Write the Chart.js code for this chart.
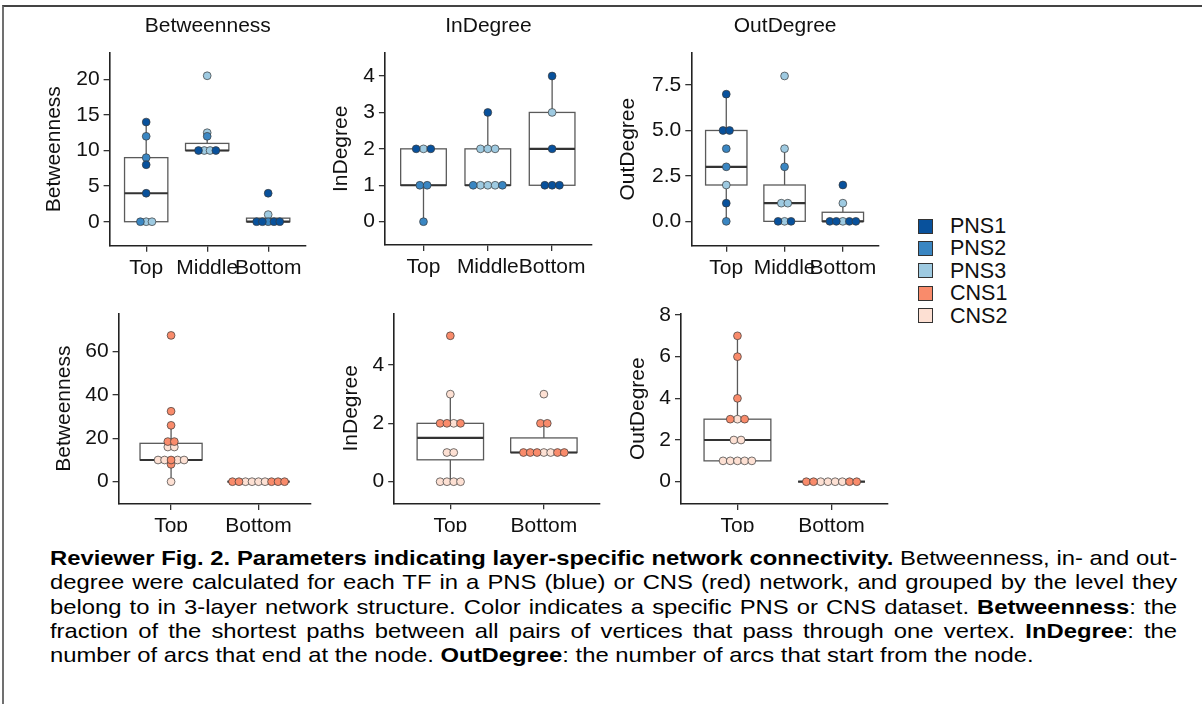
<!DOCTYPE html>
<html><head><meta charset="utf-8">
<script src="https://cdn.jsdelivr.net/npm/chart.js@4.4.1/dist/chart.umd.min.js"></script>
<style>
body{margin:0;width:1202px;height:704px;background:#fff;overflow:hidden;position:relative;font-family:"Liberation Sans",Arial,Helvetica,sans-serif;}
.frame{position:absolute;left:2px;top:5px;width:1200px;height:699px;border-top:2px solid #444;border-left:2px solid #707070;box-sizing:border-box;}
canvas.panel{position:absolute;}
.legend{position:absolute;left:918px;top:215px;font-size:21.5px;color:#111;}
.legend .row{height:22.4px;line-height:22.4px;position:relative;padding-left:32px;white-space:nowrap;}
.legend .sw{position:absolute;left:0;top:3.5px;width:15px;height:15px;border:1.4px solid #333;box-sizing:border-box;}
.caption{position:absolute;left:50px;top:546px;width:965px;font-size:20.4px;line-height:24.3px;color:#000;transform:scaleX(1.168);transform-origin:0 0;}
.caption div{white-space:nowrap;text-align:justify;text-align-last:justify;}
.caption div.last{text-align:left;text-align-last:left;}
</style></head>
<body>
<div class="frame"></div>
<canvas class="panel" id="p1"></canvas>
<canvas class="panel" id="p2"></canvas>
<canvas class="panel" id="p3"></canvas>
<canvas class="panel" id="p4"></canvas>
<canvas class="panel" id="p5"></canvas>
<canvas class="panel" id="p6"></canvas>
<div class="legend" id="legend"></div>
<div class="caption">
<div><b>Reviewer Fig. 2. Parameters indicating layer-specific network connectivity.</b> Betweenness, in- and out-</div>
<div>degree were calculated for each TF in a PNS (blue) or CNS (red) network, and grouped by the level they</div>
<div>belong to in 3-layer network structure. Color indicates a specific PNS or CNS dataset. <b>Betweenness</b>: the</div>
<div>fraction of the shortest paths between all pairs of vertices that pass through one vertex. <b>InDegree</b>: the</div>
<div class="last">number of arcs that end at the node. <b>OutDegree</b>: the number of arcs that start from the node.</div>
</div>
<script>
// ---------------- data ----------------
const levels3 = ['Top', 'Middle', 'Bottom'];
const levels2 = ['Top', 'Bottom'];
const seriesNames = ['PNS1', 'PNS2', 'PNS3', 'CNS1', 'CNS2'];

const pnsBetweennessTicks = [0, 5, 10, 15, 20];
const pnsInDegreeTicks = [0, 1, 2, 3, 4];
const pnsOutDegreeTicks = [0, 2.5, 5, 7.5];
const cnsBetweennessTicks = [0, 20, 40, 60];
const cnsInDegreeTicks = [0, 2, 4];
const cnsOutDegreeTicks = [0, 2, 4, 6, 8];

// box stats per level: [lower whisker, Q1, median, Q3, upper whisker]
const pnsBetweennessBoxes = [[0, 0, 4, 9, 14], [10, 10, 10, 11, 12.5], [0, 0, 0, 0.5, 1]];
const pnsBetweennessValues = [[14, 12, 9, 8, 4, 0, 0, 0], [20.5, 12.5, 12, 10, 10, 10, 10], [4, 1, 0, 0, 0, 0, 0]];
const pnsBetweennessSets = [
  ['PNS1', 'PNS2', 'PNS2', 'PNS1', 'PNS1', 'PNS2', 'PNS3', 'PNS3'],
  ['PNS3', 'PNS3', 'PNS2', 'PNS1', 'PNS3', 'PNS3', 'PNS1'],
  ['PNS1', 'PNS3', 'PNS1', 'PNS1', 'PNS2', 'PNS1', 'PNS1']];

const pnsInDegreeBoxes = [[0, 1, 1, 2, 2], [1, 1, 1, 2, 3], [1, 1, 2, 3, 4]];
const pnsInDegreeValues = [[2, 2, 2, 1, 1, 0], [3, 2, 2, 2, 1, 1, 1, 1, 1], [4, 3, 2, 1, 1, 1]];
const pnsInDegreeSets = [
  ['PNS1', 'PNS3', 'PNS1', 'PNS2', 'PNS2', 'PNS2'],
  ['PNS1', 'PNS3', 'PNS3', 'PNS3', 'PNS2', 'PNS3', 'PNS3', 'PNS3', 'PNS2'],
  ['PNS1', 'PNS3', 'PNS1', 'PNS1', 'PNS1', 'PNS1']];

const pnsOutDegreeBoxes = [[0, 2, 3, 5, 7], [0, 0, 1, 2, 4], [0, 0, 0, 0.5, 1]];
const pnsOutDegreeValues = [[7, 5, 5, 4, 3, 2, 1, 0], [8, 4, 3, 1, 1, 0, 0, 0], [2, 1, 0, 0, 0, 0, 0]];
const pnsOutDegreeSets = [
  ['PNS1', 'PNS1', 'PNS1', 'PNS2', 'PNS2', 'PNS3', 'PNS1', 'PNS2'],
  ['PNS3', 'PNS3', 'PNS2', 'PNS3', 'PNS3', 'PNS1', 'PNS3', 'PNS1'],
  ['PNS1', 'PNS3', 'PNS1', 'PNS1', 'PNS3', 'PNS1', 'PNS1']];

const cnsBetweennessBoxes = [[0, 10, 10, 17.7, 26], [0, 0, 0, 0, 0]];
const cnsBetweennessValues = [[67.5, 32.5, 26, 18.5, 18.5, 16, 16, 10, 10, 10, 10, 10, 8, 0], [0, 0, 0, 0, 0, 0, 0, 0, 0]];
const cnsBetweennessSets = [
  ['CNS1', 'CNS1', 'CNS1', 'CNS1', 'CNS1', 'CNS2', 'CNS2', 'CNS2', 'CNS2', 'CNS1', 'CNS2', 'CNS2', 'CNS1', 'CNS2'],
  ['CNS1', 'CNS1', 'CNS2', 'CNS2', 'CNS2', 'CNS2', 'CNS1', 'CNS1', 'CNS1']];

const cnsInDegreeBoxes = [[0, 0.75, 1.5, 2, 3], [1, 1, 1, 1.5, 2]];
const cnsInDegreeValues = [[5, 3, 2, 2, 2, 2, 1, 1, 0, 0, 0, 0], [3, 2, 2, 1, 1, 1, 1, 1, 1, 1]];
const cnsInDegreeSets = [
  ['CNS1', 'CNS2', 'CNS1', 'CNS1', 'CNS2', 'CNS1', 'CNS2', 'CNS2', 'CNS2', 'CNS2', 'CNS2', 'CNS2'],
  ['CNS2', 'CNS1', 'CNS1', 'CNS1', 'CNS1', 'CNS1', 'CNS2', 'CNS2', 'CNS1', 'CNS1']];

const cnsOutDegreeBoxes = [[1, 1, 2, 3, 7], [0, 0, 0, 0, 0]];
const cnsOutDegreeValues = [[7, 6, 4, 3, 3, 3, 2, 2, 1, 1, 1, 1, 1], [0, 0, 0, 0, 0, 0, 0, 0]];
const cnsOutDegreeSets = [
  ['CNS1', 'CNS1', 'CNS1', 'CNS1', 'CNS2', 'CNS1', 'CNS2', 'CNS2', 'CNS2', 'CNS2', 'CNS2', 'CNS2', 'CNS2'],
  ['CNS1', 'CNS1', 'CNS2', 'CNS2', 'CNS2', 'CNS2', 'CNS1', 'CNS1']];

// ---------------- style ----------------
const seriesColors = {PNS1: '#08519C', PNS2: '#3A86C2', PNS3: '#9ECAE1', CNS1: '#F98B6B', CNS2: '#FDE0D3'};
const FONT = '"Liberation Sans", Arial, Helvetica, sans-serif';
const INK = '#111';

// legend
const lg = document.getElementById('legend');
seriesNames.forEach(n => {
  const r = document.createElement('div'); r.className = 'row';
  const s = document.createElement('span'); s.className = 'sw'; s.style.background = seriesColors[n];
  r.appendChild(s); r.appendChild(document.createTextNode(n)); lg.appendChild(r);
});

function boxPlugin(boxes, halfW) {
  return {
    id: 'boxes',
    beforeDatasetsDraw(chart) {
      const {ctx, scales: {x, y}} = chart;
      ctx.save();
      boxes.forEach((b, i) => {
        const c = i + 1;
        const xl = x.getPixelForValue(c - halfW), xr = x.getPixelForValue(c + halfW), xc = x.getPixelForValue(c);
        const [lo, q1, med, q3, hi] = b.map(v => y.getPixelForValue(v));
        ctx.strokeStyle = '#5a5a5a'; ctx.lineWidth = 1.3;
        ctx.beginPath(); ctx.moveTo(xc, q3); ctx.lineTo(xc, hi); ctx.moveTo(xc, q1); ctx.lineTo(xc, lo); ctx.stroke();
        ctx.fillStyle = '#fff'; ctx.fillRect(xl, q3, xr - xl, q1 - q3);
        ctx.strokeRect(xl, q3, xr - xl, q1 - q3);
        ctx.strokeStyle = '#333'; ctx.lineWidth = 2.2;
        ctx.beginPath(); ctx.moveTo(xl, med); ctx.lineTo(xr, med); ctx.stroke();
      });
      ctx.restore();
    }
  };
}

function makePanel(id, d) {
  const rowTop = d.title ? 0 : 300;
  const rowH = d.title ? 290 : 232;
  const left = d.yTitleX - 12.6;
  const width = d.R + 5 - left;
  const cv = document.getElementById(id);
  cv.width = Math.round(width); cv.height = rowH;
  cv.style.left = left + 'px'; cv.style.top = rowTop + 'px';
  const pxPerX = (d.R - d.L) / (d.xMax - 0.4);
  const step = d.dotPx / pxPerX;
  const byName = {};
  d.values.forEach((vals, i) => {
    const groups = {};
    vals.forEach((v, k) => { (groups[v] = groups[v] || []).push(k); });
    Object.values(groups).forEach(idx => {
      idx.forEach((k, j) => {
        const nm = d.sets[i][k];
        (byName[nm] = byName[nm] || []).push({x: i + 1 + (j - (idx.length - 1) / 2) * step, y: vals[k]});
      });
    });
  });
  const datasets = seriesNames.filter(n => byName[n]).map(n => ({
    label: n, data: byName[n], backgroundColor: seriesColors[n], borderColor: '#3a3a3a',
    borderWidth: 0.7, pointRadius: 3.9, pointHoverRadius: 3.9
  }));
  const tickFont = {family: FONT, size: 21};
  const gridOpt = {display: true, drawOnChartArea: false, drawTicks: true, tickLength: 6, color: '#333', lineWidth: 1.3};
  const borderOpt = {display: true, color: '#222', width: 1.6};
  new Chart(cv, {
    type: 'scatter',
    data: {datasets},
    plugins: [boxPlugin(d.boxes, 0.355)],
    options: {
      responsive: false, animation: false, devicePixelRatio: 1,
      layout: {padding: {left: 0, right: 5, top: d.title ? 0 : d.T - 300, bottom: 0}},
      plugins: {
        legend: {display: false}, tooltip: {enabled: false},
        title: d.title ? {display: true, text: d.title, fullSize: false, color: INK,
          font: {family: FONT, size: 21, weight: 'normal', lineHeight: 1.2},
          padding: {top: 14.1, bottom: d.T - 26.7 - 12.6}} : {display: false}
      },
      scales: {
        x: {
          type: 'linear', min: 0.4, max: d.xMax,
          afterFit(s) { s.height = rowH - (d.B - rowTop); s.paddingLeft = 0; s.paddingRight = 0; },
          afterBuildTicks(s) { s.ticks = d.levels.map((_, i) => ({value: i + 1})); },
          ticks: {autoSkip: false, maxRotation: 0, font: tickFont, color: INK, padding: 4,
            callback: v => d.levels[Math.round(v) - 1] || ''},
          grid: gridOpt, border: borderOpt
        },
        y: {
          type: 'linear', min: d.yMin, max: d.yMax,
          afterFit(s) { s.width = d.L - left; s.paddingTop = 0; s.paddingBottom = 0; },
          afterBuildTicks(s) { s.ticks = d.ticks.map(v => ({value: v})); },
          ticks: {font: tickFont, color: INK, padding: 4, callback: v => d.fmt ? d.fmt(v) : String(v)},
          title: {display: true, text: d.yTitle, color: INK, padding: 0, font: {family: FONT, size: 21, lineHeight: 1.2}},
          grid: gridOpt, border: borderOpt
        }
      }
    }
  });
}

makePanel('p1', {title: 'Betweenness', yTitle: 'Betweenness', yTitleX: 55, L: 110, R: 306.7, T: 52.7, B: 245.7,
  yMin: -3.37, yMax: 23.74, xMax: 3.62, dotPx: 5.8, levels: levels3, ticks: pnsBetweennessTicks,
  values: pnsBetweennessValues, sets: pnsBetweennessSets, boxes: pnsBetweennessBoxes});
makePanel('p2', {title: 'InDegree', yTitle: 'InDegree', yTitleX: 341.7, L: 385, R: 591.7, T: 52.7, B: 245,
  yMin: -0.64, yMax: 4.64, xMax: 3.62, dotPx: 7.3, levels: levels3, ticks: pnsInDegreeTicks,
  values: pnsInDegreeValues, sets: pnsInDegreeSets, boxes: pnsInDegreeBoxes});
makePanel('p3', {title: 'OutDegree', yTitle: 'OutDegree', yTitleX: 628.3, L: 691, R: 878.3, T: 52.7, B: 245.7,
  yMin: -1.34, yMax: 9.28, xMax: 3.62, dotPx: 6.5, levels: levels3, ticks: pnsOutDegreeTicks, fmt: v => v.toFixed(1),
  values: pnsOutDegreeValues, sets: pnsOutDegreeSets, boxes: pnsOutDegreeBoxes});
makePanel('p4', {title: null, yTitle: 'Betweenness', yTitleX: 65, L: 119, R: 311, T: 313.3, B: 504,
  yMin: -10.3, yMax: 77.7, xMax: 2.6, dotPx: 6.5, levels: levels2, ticks: cnsBetweennessTicks,
  values: cnsBetweennessValues, sets: cnsBetweennessSets, boxes: cnsBetweennessBoxes});
makePanel('p5', {title: null, yTitle: 'InDegree', yTitleX: 351.7, L: 394.3, R: 600, T: 313.3, B: 503.3,
  yMin: -0.74, yMax: 5.77, xMax: 2.6, dotPx: 6.8, levels: levels2, ticks: cnsInDegreeTicks,
  values: cnsInDegreeValues, sets: cnsInDegreeSets, boxes: cnsInDegreeBoxes});
makePanel('p6', {title: null, yTitle: 'OutDegree', yTitleX: 638.3, L: 680.7, R: 887.7, T: 313.3, B: 504,
  yMin: -1.07, yMax: 8.08, xMax: 2.6, dotPx: 7.2, levels: levels2, ticks: cnsOutDegreeTicks,
  values: cnsOutDegreeValues, sets: cnsOutDegreeSets, boxes: cnsOutDegreeBoxes});
</script>
</body></html>
